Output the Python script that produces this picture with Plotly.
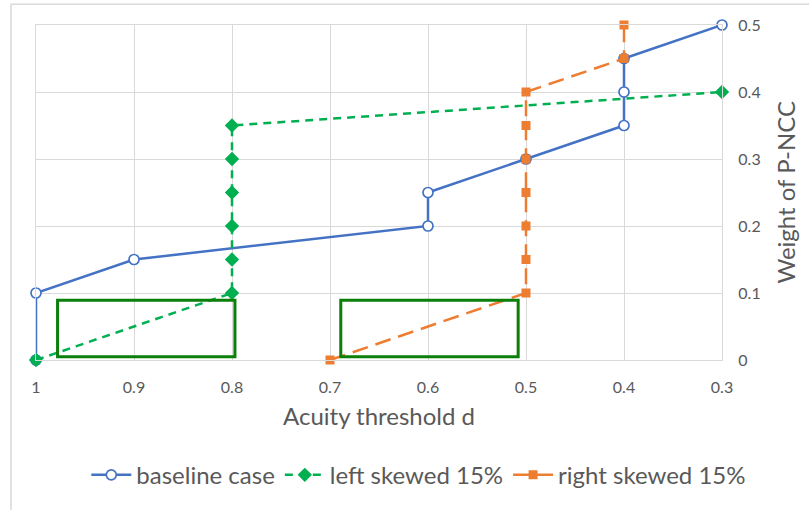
import plotly.graph_objects as go

# ---- data ----
base_x = [1, 1, 0.9, 0.6, 0.6, 0.5, 0.4, 0.4, 0.4, 0.3]
base_y = [0, 0.1, 0.15, 0.2, 0.25, 0.3, 0.35, 0.4, 0.45, 0.5]
left_x = [1, 0.8, 0.8, 0.8, 0.8, 0.8, 0.8, 0.3]
left_y = [0, 0.1, 0.15, 0.2, 0.25, 0.3, 0.35, 0.4]
right_x = [0.7, 0.5, 0.5, 0.5, 0.5, 0.5, 0.5, 0.5, 0.4, 0.4]
right_y = [0, 0.1, 0.15, 0.2, 0.25, 0.3, 0.35, 0.4, 0.45, 0.5]
x_ticks = [1, 0.9, 0.8, 0.7, 0.6, 0.5, 0.4, 0.3]
x_tick_labels = ["1", "0.9", "0.8", "0.7", "0.6", "0.5", "0.4", "0.3"]
y_ticks = [0, 0.1, 0.2, 0.3, 0.4, 0.5]
y_tick_labels = ["0", "0.1", "0.2", "0.3", "0.4", "0.5"]
series_names = ["baseline case", "left skewed 15%", "right skewed 15%"]
# highlighted regions (x0, x1, y0, y1)
boxes = [(0.978, 0.797, 0.005, 0.089), (0.689, 0.508, 0.005, 0.089)]

BLUE = "#4472c4"
GREEN = "#00b050"
ORANGE = "#ed7d31"
TXT = "#595959"
FONT = "Lato"

fig = go.Figure()
fig.add_trace(go.Scatter(
    x=base_x, y=base_y, name=series_names[0], mode="lines+markers", cliponaxis=False,
    line=dict(color=BLUE, width=2.5),
    marker=dict(symbol="circle", size=10, color="white", line=dict(color=BLUE, width=1.7)),
))
fig.add_trace(go.Scatter(
    x=left_x, y=left_y, name=series_names[1], mode="lines+markers", cliponaxis=False,
    line=dict(color=GREEN, width=2.5, dash="8px,6px"),
    marker=dict(symbol="diamond", size=11, color=GREEN),
))
fig.add_trace(go.Scatter(
    x=right_x, y=right_y, name=series_names[2], mode="lines+markers", cliponaxis=False,
    line=dict(color=ORANGE, width=2.5, dash="16px,8px"),
    marker=dict(symbol="square", size=9, color=ORANGE),
))

shapes = []
for (x0, x1, y0, y1) in boxes:
    shapes.append(dict(type="rect", xref="x", yref="y", x0=x0, x1=x1, y0=y0, y1=y1,
                       line=dict(color="#0a7f0a", width=3), fillcolor="rgba(0,0,0,0)",
                       layer="above"))
# outer chart frame (left and top edges)
shapes.append(dict(type="path", xref="paper", yref="paper",
                   path="M -0.0364 -0.5 L -0.0364 1.0623 L 1.2 1.0623",
                   line=dict(color="#d9d9d9", width=1.5)))

fig.update_layout(
    width=809, height=510,
    margin=dict(l=36, r=87, t=25, b=148),
    paper_bgcolor="white", plot_bgcolor="white",
    font=dict(family=FONT, color=TXT),
    showlegend=True,
    legend=dict(orientation="h", x=0.558, xanchor="center", y=-0.344, yanchor="middle",
                font=dict(size=24, color=TXT, family=FONT), itemwidth=40,
                tracegroupgap=0),
    shapes=shapes,
    annotations=[
        dict(text="Acuity threshold d", xref="paper", yref="paper", x=0.5, y=-0.166,
             showarrow=False, font=dict(size=24, color=TXT, family=FONT),
             xanchor="center", yanchor="middle"),
        dict(text="Weight of P-NCC", xref="paper", yref="paper", x=1.092, y=0.5,
             showarrow=False, textangle=-90, font=dict(size=24, color=TXT, family=FONT),
             xanchor="center", yanchor="middle"),
    ],
)
fig.update_xaxes(
    range=[1, 0.3], autorange=False, tickmode="array", tickvals=x_ticks, ticktext=x_tick_labels,
    showgrid=True, gridcolor="#d9d9d9", gridwidth=1.3,
    showline=True, mirror=True, linecolor="#d9d9d9", linewidth=1.3,
    ticks="outside", ticklen=13, tickcolor="rgba(0,0,0,0)",
    tickfont=dict(size=16, color=TXT, family=FONT), zeroline=False,
)
fig.update_yaxes(
    range=[0, 0.5], autorange=False, side="right", tickmode="array", tickvals=y_ticks,
    ticktext=y_tick_labels,
    showgrid=True, gridcolor="#d9d9d9", gridwidth=1.3,
    showline=True, mirror=True, linecolor="#d9d9d9", linewidth=1.3,
    ticks="outside", ticklen=12, tickcolor="rgba(0,0,0,0)",
    tickfont=dict(size=16, color=TXT, family=FONT),
    zeroline=True, zerolinecolor="#bfbfbf", zerolinewidth=1.8,
)
fig.write_html("out.html")
